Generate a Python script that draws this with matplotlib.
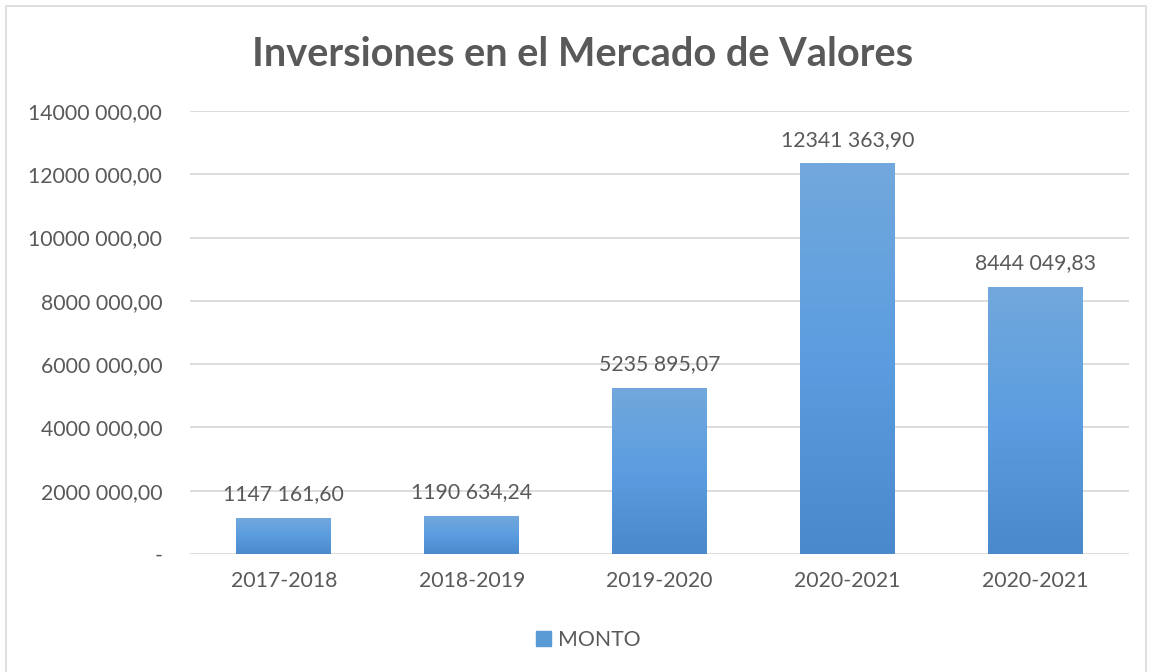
import numpy as np
import matplotlib
matplotlib.use("Agg")
import matplotlib.pyplot as plt
from matplotlib.patches import Rectangle
from matplotlib.colors import LinearSegmentedColormap

periodos = ["2017-2018", "2018-2019", "2019-2020", "2020-2021", "2020-2021"]
monto = [1147161.60, 1190634.24, 5235895.07, 12341363.90, 8444049.83]
etiquetas = ["1147 161,60", "1190 634,24", "5235 895,07", "12341 363,90", "8444 049,83"]
y_ticks = [0, 2000000, 4000000, 6000000, 8000000, 10000000, 12000000, 14000000]
y_labels = ["-", "2000 000,00", "4000 000,00", "6000 000,00", "8000 000,00",
            "10000 000,00", "12000 000,00", "14000 000,00"]

plt.rcParams["font.family"] = ["Lato", "DejaVu Sans"]
txt = "#595959"
fs = 15.3

W, H = 1149, 672
fig = plt.figure(figsize=(W / 100, H / 100), dpi=100)
ax = fig.add_axes([190 / W, 1 - 554 / H, (1129 - 190) / W, (554 - 111) / H])

x = np.arange(len(periodos))
bars = ax.bar(x, monto, width=0.505, color="#5b9bd5", zorder=2)

# degradado vertical de las barras
cmap = LinearSegmentedColormap.from_list("g", ["#4a89cb", "#5b9de0", "#72a8dc"])
grad = np.linspace(0, 1, 256).reshape(-1, 1)
for b in bars:
    b.set_facecolor("none")
    x0, w, h = b.get_x(), b.get_width(), b.get_height()
    im = ax.imshow(grad, extent=[x0, x0 + w, 0, h], origin="lower", cmap=cmap,
                   aspect="auto", zorder=2)
    im.set_clip_path(b)

ax.set_xlim(-0.5, len(periodos) - 0.5)
ax.set_ylim(0, 14000000)
ax.set_yticks(y_ticks)
ax.set_yticklabels(y_labels)
ax.set_xticks(x)
ax.set_xticklabels(periodos)
ax.tick_params(axis="both", length=0, labelsize=fs, colors=txt)
ax.tick_params(axis="y", pad=20)
ax.tick_params(axis="x", pad=12)
ax.grid(axis="y", color="#d9d9d9", lw=1.3, zorder=0)
for s in ax.spines.values():
    s.set_visible(False)

for xi, v, lab in zip(x, monto, etiquetas):
    ax.annotate(lab, (xi, v), xytext=(0, 10), textcoords="offset points",
                ha="center", va="bottom", fontsize=fs, color=txt)

fig.text(583 / W, 1 - 55 / H, "Inversiones en el Mercado de Valores",
         ha="center", va="center", fontsize=28.6, fontweight="bold", color=txt)

leg = fig.legend([Rectangle((0, 0), 1, 1, color="#5b9bd5")], ["MONTO"],
                 loc="center", bbox_to_anchor=(588 / W, 1 - 640 / H),
                 frameon=False, fontsize=fs, handlelength=0.75, handleheight=0.75,
                 handletextpad=0.3)
for t in leg.get_texts():
    t.set_color(txt)

fig.patches.append(Rectangle((6 / W, -0.01), (1146 - 6) / W, 1 - 6 / H + 0.01,
                             transform=fig.transFigure, fill=False,
                             ec="#d9d9d9", lw=1.2))

fig.savefig("out.png", dpi=100)
